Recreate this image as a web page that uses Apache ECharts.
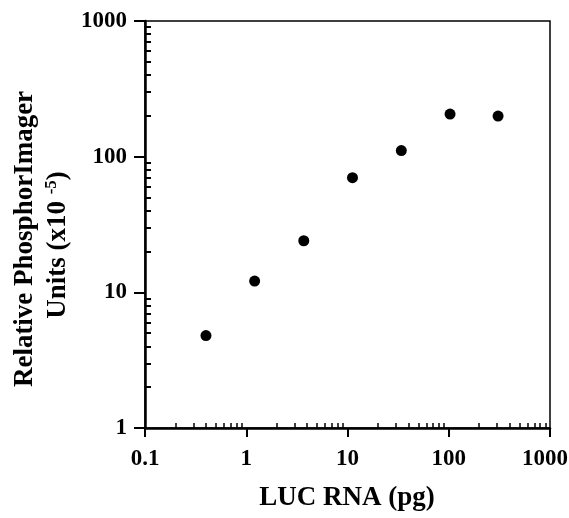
<!DOCTYPE html>
<html>
<head>
<meta charset="utf-8">
<script src="https://cdn.jsdelivr.net/npm/echarts@6/dist/echarts.min.js"></script>
<style>
html,body{margin:0;padding:0;background:#fff;}
#chart{width:569px;height:518px;}
</style>
</head>
<body>
<div id="chart"></div>
<script>
// Data
const lucRNA = [0.40, 1.21, 3.7, 11.2, 34, 103, 307];          // pg
const phosphorUnits = [4.8, 12.1, 24.0, 70, 111, 206, 199];    // x10^-5
const xTickLabels = {'0.1':'0.1','1':'1','10':'10','100':'100','1000':'1000'};
const yTickLabels = {'1':'1','10':'10','100':'100','1000':'1000'};
const xTitle = 'LUC RNA (pg)';
const yTitleLine1 = 'Relative PhosphorImager';
const yTitleLine2 = 'Units (x10 ';
const yTitleSup = '-5';

const FONT = '"Liberation Serif", "Times New Roman", serif';
const chart = echarts.init(document.getElementById('chart'), null, {renderer:'canvas'});

function key(v){ return String(+(+v).toPrecision(6)); }
function fmtY(v){ const k = key(v); return yTickLabels[k] !== undefined ? yTickLabels[k] : ''; }
function fmtX(v){
  const k = key(v);
  if (xTickLabels[k] === undefined) return '';
  // last label sits slightly left of its tick in the reference
  return k === '1000' ? '{t|' + xTickLabels[k] + '}{sp| }' : '{t|' + xTickLabels[k] + '}';
}

const pts = lucRNA.map((x,i)=>[x, phosphorUnits[i]]);
const labelFont = {color:'#000', fontFamily:FONT, fontWeight:'bold', fontSize:23};

const option = {
  animation:false,
  backgroundColor:'#fff',
  grid:{left:145, right:19, top:21, bottom:90, show:true, borderColor:'#000', borderWidth:1.5, containLabel:false, outerBoundsMode:'none'},
  xAxis:[{
    type:'log', logBase:10, min:0.1, max:1000, position:'bottom',
    axisLine:{show:true, lineStyle:{color:'#000', width:2.5}},
    axisTick:{show:true, inside:false, length:9, lineStyle:{color:'#000', width:2}},
    minorTick:{show:false},
    splitLine:{show:false},
    axisLabel:Object.assign({show:true, margin:20, formatter:fmtX,
      rich:{t:Object.assign({}, labelFont), sp:{width:10, fontSize:23}}}, labelFont)
  },{
    type:'log', logBase:10, min:0.1, max:1000, position:'bottom',
    axisLine:{show:false},
    axisTick:{show:false, inside:true},
    minorTick:{show:true, splitNumber:9, length:5, lineStyle:{color:'#000', width:1.5}},
    splitLine:{show:false}, axisLabel:{show:false}
  }],
  yAxis:[{
    type:'log', logBase:10, min:1, max:1000, position:'left',
    axisLine:{show:true, lineStyle:{color:'#000', width:2.5}},
    axisTick:{show:true, inside:false, length:11, lineStyle:{color:'#000', width:2}},
    minorTick:{show:false},
    splitLine:{show:false},
    axisLabel:Object.assign({show:true, margin:18, formatter:fmtY}, labelFont)
  },{
    type:'log', logBase:10, min:1, max:1000, position:'left',
    axisLine:{show:false},
    axisTick:{show:false, inside:true},
    minorTick:{show:true, splitNumber:9, length:6, lineStyle:{color:'#000', width:2}},
    splitLine:{show:false}, axisLabel:{show:false}
  }],
  series:[{
    type:'scatter', xAxisIndex:0, yAxisIndex:0,
    data:pts, symbol:'circle', symbolSize:11,
    itemStyle:{color:'#000', opacity:1}
  }],
  graphic:[
    {type:'text', x:347, y:498, style:{text:xTitle, font:'bold 27px '+FONT, fill:'#000', textAlign:'center', textVerticalAlign:'middle'}},
    {type:'text', x:25, y:239, rotation:Math.PI/2, style:{text:yTitleLine1, font:'bold 27px '+FONT, fill:'#000', textAlign:'center', textVerticalAlign:'middle'}},
    {type:'text', x:58, y:245, rotation:Math.PI/2, style:{
      text:'{a|'+yTitleLine2+'}{s|'+yTitleSup+'}{a|)}',
      textAlign:'center', textVerticalAlign:'middle',
      rich:{a:{font:'bold 27px '+FONT, fill:'#000', color:'#000'}, s:{font:'bold 17px '+FONT, color:'#000', fill:'#000', padding:[0,0,12,0]}}
    }}
  ]
};
chart.setOption(option);
</script>
</body>
</html>
